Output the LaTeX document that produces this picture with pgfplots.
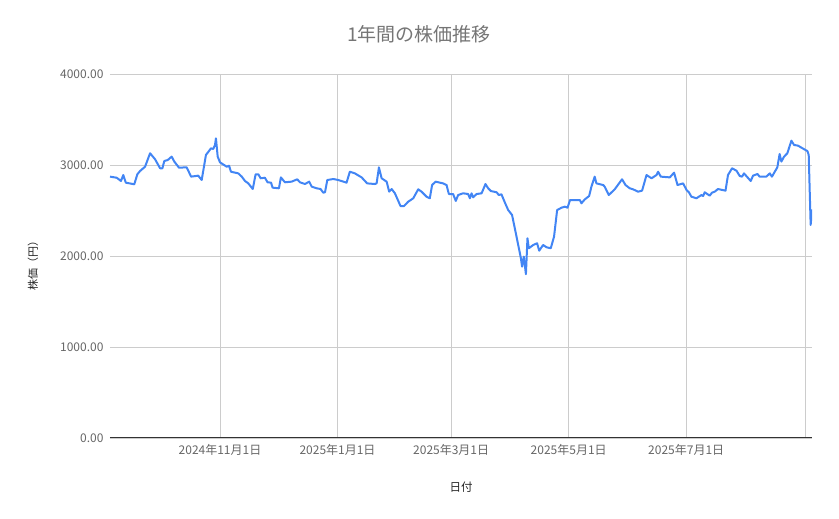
\documentclass[border=0pt]{standalone}
\usepackage{fontspec}
\setmainfont{Noto Sans CJK JP}
\usepackage{pgfplots}
\usepackage{pgfplotstable}
\pgfplotsset{compat=1.18}

\definecolor{lineblue}{HTML}{4285F4}
\definecolor{titlegray}{HTML}{757575}
\definecolor{tickgray}{HTML}{666666}
\definecolor{gridgray}{HTML}{CCCCCC}
\definecolor{axisdark}{HTML}{333333}

% day 0 = 2024-09-01, price in yen
\pgfplotstableread{
day price
3.9 2872
7.4 2860
9.6 2824
10.8 2890
12.1 2806
16.5 2788
18.1 2898
19.5 2934
22.1 2981
24.7 3129
27.3 3063
29.9 2964
31.1 2964
32.1 3044
33.9 3055
35.9 3092
37.3 3037
39.7 2971
43.7 2974
46.0 2872
49.7 2883
51.5 2835
53.7 3110
56.3 3183
57.5 3176
58.4 3220
58.9 3293
59.8 3092
61.0 3029
64.5 2981
65.7 2992
66.7 2926
70.5 2908
72.3 2872
74.0 2824
75.7 2798
78.0 2736
79.5 2898
80.9 2898
82.1 2854
84.3 2860
85.7 2810
87.5 2806
88.3 2751
91.6 2744
92.6 2864
94.7 2810
98.2 2817
101.1 2843
102.5 2810
105.1 2791
107.3 2817
108.6 2762
111.2 2744
113.2 2736
114.6 2696
115.5 2700
116.7 2835
119.8 2846
122.4 2835
126.7 2806
128.4 2926
131.0 2908
134.5 2864
137.4 2798
141.4 2791
142.3 2798
143.5 2974
144.9 2854
147.5 2817
148.8 2707
150.1 2736
151.8 2689
154.7 2549
156.5 2549
158.7 2597
161.3 2634
163.9 2733
165.6 2707
168.2 2652
169.9 2634
171.1 2780
172.9 2817
176.8 2798
178.6 2780
179.8 2681
182.0 2681
183.4 2605
184.6 2670
187.2 2689
189.8 2681
190.7 2634
191.6 2689
192.4 2645
194.2 2681
196.8 2689
198.8 2791
200.2 2744
201.6 2714
204.6 2700
205.7 2670
207.1 2678
208.9 2586
210.6 2505
212.6 2451
214.4 2267
215.8 2121
217.2 1975
217.8 1883
218.7 1993
219.8 1800
220.6 2195
221.3 2085
223.6 2121
225.6 2140
226.7 2058
228.7 2121
230.5 2096
232.7 2085
234.4 2213
236.0 2505
238.3 2531
240.0 2542
241.4 2531
242.7 2615
247.8 2615
248.6 2579
250.4 2623
252.6 2659
253.8 2762
255.5 2872
256.4 2798
259.9 2780
260.7 2762
262.8 2670
265.9 2733
269.7 2843
271.5 2780
273.7 2744
275.4 2733
278.0 2707
280.1 2718
282.4 2890
285.0 2854
287.6 2890
288.4 2926
289.8 2872
294.5 2864
296.7 2916
298.5 2780
301.4 2798
303.2 2725
304.4 2700
305.7 2652
308.3 2634
310.9 2670
311.8 2659
312.6 2700
315.2 2663
316.4 2696
317.8 2707
319.5 2736
323.4 2718
324.7 2890
326.8 2964
329.1 2937
330.8 2879
332.0 2872
333.0 2908
336.5 2824
337.7 2883
340.0 2901
341.1 2872
344.6 2872
346.4 2908
347.5 2872
350.3 2974
351.5 3121
352.4 3037
353.8 3092
355.5 3129
357.6 3267
359.0 3220
361.0 3213
364.9 3165
365.9 3154
366.6 3110
367.6 2341
368.3 2513
}\pricedata

\begin{document}
\begin{tikzpicture}
\useasboundingbox (-110pt,-81pt) rectangle (729pt,438pt);
\begin{axis}[
    width=702pt, height=364pt, scale only axis,
    xmin=3.9, xmax=368.3,
    ymin=0, ymax=4000,
    axis lines*=left,
    x axis line style={draw=axisdark, line width=1pt, -},
    y axis line style={draw=none},
    major tick length=0pt,
    grid=major,
    grid style={draw=gridgray, line width=0.8pt},
    xtick={61,122,181,242,303,365},
    xticklabels={2024年11月1日,2025年1月1日,2025年3月1日,2025年5月1日,2025年7月1日,{}},
    ytick={0,1000,2000,3000,4000},
    scaled y ticks=false,
    /pgf/number format/fixed,
    /pgf/number format/fixed zerofill,
    /pgf/number format/precision=2,
    /pgf/number format/1000 sep={},
    /pgf/number format/assume math mode=true,
    tick label style={font=\fontsize{12}{14}\selectfont, text=tickgray},
    xticklabel style={yshift=-3pt},
    yticklabel style={xshift=-3pt},
    title={1年間の株価推移},
    title style={at={(axis description cs:0.440,1.0934)}, anchor=center, font=\fontsize{19}{22}\selectfont, text=titlegray},
    xlabel={日付},
    xlabel style={at={(axis description cs:0.5,-0.1346)}, anchor=center, font=\fontsize{11.5}{13}\selectfont, text=black!85},
    ylabel={株価（円）},
    ylabel style={at={(axis description cs:-0.1097,0.481)}, anchor=center, rotate=0, font=\fontsize{11}{13}\selectfont, text=black!85},
]
\addplot[lineblue, line width=2pt, line join=round, mark=none] table[x=day, y=price] {\pricedata};
\end{axis}
\end{tikzpicture}
\end{document}
